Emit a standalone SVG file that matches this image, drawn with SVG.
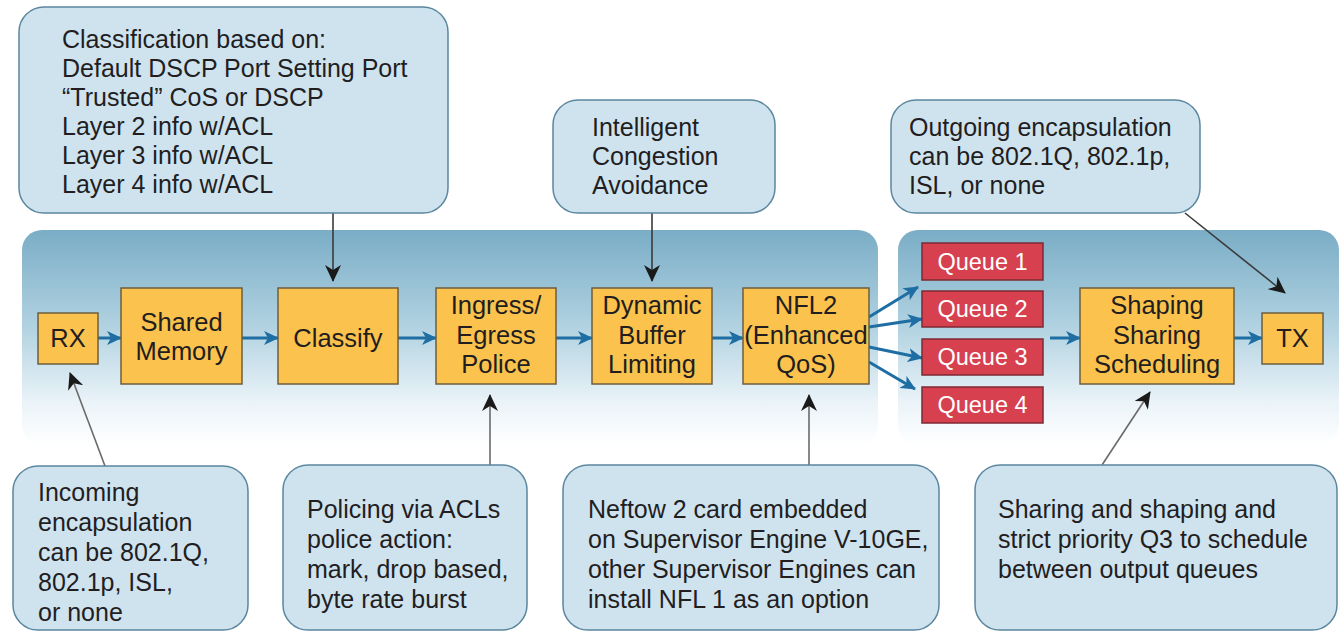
<svg xmlns="http://www.w3.org/2000/svg" width="1340" height="632" viewBox="0 0 1340 632">
  <defs>
    <linearGradient id="bandFill" x1="0" y1="0" x2="0" y2="1">
      <stop offset="0" stop-color="#7aadc6"/>
      <stop offset="0.45" stop-color="#b1d2e1"/>
      <stop offset="0.8" stop-color="#eaf3f8"/>
      <stop offset="1" stop-color="#ffffff"/>
    </linearGradient>
    <marker id="blueHead" markerUnits="userSpaceOnUse" markerWidth="16" markerHeight="14" refX="14" refY="7" orient="auto">
      <path d="M0,0 L15,7 L0,14 L4,7 Z" fill="#1f6ea3"/>
    </marker>
    <marker id="darkHead" markerUnits="userSpaceOnUse" markerWidth="18" markerHeight="16" refX="16" refY="8" orient="auto">
      <path d="M0,0 L17,8 L0,16 L5,8 Z" fill="#1a1a1a"/>
    </marker>
    <style>
      .band { fill: url(#bandFill); }
      .proc { fill: #fbc24d; stroke: #6e5e3e; stroke-width: 1.5; }
      .queue { fill: #d6404f; stroke: #7d2a33; stroke-width: 1.5; }
      .note { fill: #cfe3ef; stroke: #5b879f; stroke-width: 1.5; }
      .lbl { font-family: "Liberation Sans", Arial, sans-serif; font-size: 25px; fill: #221e1f; }
      .big { font-size: 25.5px; }
      .mid { text-anchor: middle; }
      .qlbl { font-family: "Liberation Sans", Arial, sans-serif; font-size: 23.5px; fill: #ffffff; text-anchor: middle; }
      .flow { stroke: #1f6ea3; stroke-width: 3; fill: none; marker-end: url(#blueHead); }
      .callout { stroke: #3a3a3a; stroke-width: 1.6; fill: none; marker-end: url(#darkHead); }
      .callout2 { stroke: #6a6a6a; stroke-width: 1.6; fill: none; marker-end: url(#darkHead); }
    </style>
  </defs>

  <rect width="1340" height="632" fill="#ffffff"/>

  <!-- pipeline backgrounds -->
  <rect class="band" x="22" y="230" width="856" height="215" rx="20"/>
  <rect class="band" x="898" y="230" width="441" height="215" rx="20"/>

  <!-- connectors -->
  <g id="connectors">
    <line class="flow" x1="98" y1="338" x2="121" y2="338"/>
    <line class="flow" x1="242" y1="338" x2="278" y2="338"/>
    <line class="flow" x1="398" y1="338" x2="436" y2="338"/>
    <line class="flow" x1="556" y1="338" x2="592" y2="338"/>
    <line class="flow" x1="712" y1="338" x2="743" y2="338"/>
    <line class="flow" x1="869" y1="317" x2="918" y2="287"/>
    <line class="flow" x1="869" y1="327" x2="922" y2="319"/>
    <line class="flow" x1="869" y1="347" x2="922" y2="358"/>
    <line class="flow" x1="869" y1="362" x2="915" y2="389"/>
    <line class="flow" x1="1050" y1="338" x2="1080" y2="338"/>
    <line class="flow" x1="1234" y1="338" x2="1262" y2="338"/>

    <line class="callout" x1="333" y1="213" x2="333" y2="281"/>
    <line class="callout" x1="652" y1="213" x2="652" y2="281"/>
    <line class="callout" x1="1185" y1="213" x2="1285" y2="293"/>
    <line class="callout2" x1="105" y1="466" x2="70" y2="373"/>
    <line class="callout2" x1="490" y1="465" x2="490" y2="395"/>
    <line class="callout2" x1="809" y1="465" x2="809" y2="395"/>
    <line class="callout2" x1="1102" y1="465" x2="1150" y2="392"/>
  </g>

  <!-- processing stages -->
  <g id="rx">
    <rect class="proc" x="38" y="313" width="60" height="51"/>
    <text class="lbl big mid" x="68" y="347">RX</text>
  </g>
  <g id="shared-memory">
    <rect class="proc" x="121" y="288" width="121" height="96"/>
    <text class="lbl big mid" x="181.5" y="331">Shared</text>
    <text class="lbl big mid" x="181.5" y="360">Memory</text>
  </g>
  <g id="classify">
    <rect class="proc" x="278" y="288" width="120" height="96"/>
    <text class="lbl big mid" x="338" y="347">Classify</text>
  </g>
  <g id="police">
    <rect class="proc" x="436" y="288" width="120" height="96"/>
    <text class="lbl big mid" x="496" y="314">Ingress/</text>
    <text class="lbl big mid" x="496" y="344">Egress</text>
    <text class="lbl big mid" x="496" y="373">Police</text>
  </g>
  <g id="buffer-limiting">
    <rect class="proc" x="592" y="288" width="120" height="96"/>
    <text class="lbl big mid" x="652" y="314">Dynamic</text>
    <text class="lbl big mid" x="652" y="344">Buffer</text>
    <text class="lbl big mid" x="652" y="373">Limiting</text>
  </g>
  <g id="nfl2">
    <rect class="proc" x="743" y="288" width="126" height="96"/>
    <text class="lbl big mid" x="806" y="314">NFL2</text>
    <text class="lbl big mid" x="806" y="344">(Enhanced</text>
    <text class="lbl big mid" x="806" y="373">QoS)</text>
  </g>
  <g id="queue1">
    <rect class="queue" x="922" y="243" width="121" height="37"/>
    <text class="qlbl" x="982.5" y="270">Queue 1</text>
  </g>
  <g id="queue2">
    <rect class="queue" x="922" y="291" width="121" height="36"/>
    <text class="qlbl" x="982.5" y="317">Queue 2</text>
  </g>
  <g id="queue3">
    <rect class="queue" x="922" y="339" width="121" height="36"/>
    <text class="qlbl" x="982.5" y="365">Queue 3</text>
  </g>
  <g id="queue4">
    <rect class="queue" x="922" y="387" width="121" height="36"/>
    <text class="qlbl" x="982.5" y="413">Queue 4</text>
  </g>
  <g id="scheduler">
    <rect class="proc" x="1080" y="288" width="154" height="96"/>
    <text class="lbl big mid" x="1157" y="314">Shaping</text>
    <text class="lbl big mid" x="1157" y="344">Sharing</text>
    <text class="lbl big mid" x="1157" y="373">Scheduling</text>
  </g>
  <g id="tx">
    <rect class="proc" x="1262" y="313" width="61" height="51"/>
    <text class="lbl big mid" x="1292.5" y="347">TX</text>
  </g>

  <!-- notes -->
  <g id="note-classification">
    <rect class="note" x="19" y="7" width="429" height="206" rx="25"/>
    <text class="lbl" x="62" y="48">Classification based on:</text>
    <text class="lbl" x="62" y="77">Default DSCP Port Setting Port</text>
    <text class="lbl" x="62" y="106">“Trusted” CoS or DSCP</text>
    <text class="lbl" x="62" y="135">Layer 2 info w/ACL</text>
    <text class="lbl" x="62" y="164">Layer 3 info w/ACL</text>
    <text class="lbl" x="62" y="193">Layer 4 info w/ACL</text>
  </g>
  <g id="note-congestion">
    <rect class="note" x="553" y="100" width="222" height="113" rx="25"/>
    <text class="lbl" x="592" y="136">Intelligent</text>
    <text class="lbl" x="592" y="165">Congestion</text>
    <text class="lbl" x="592" y="194">Avoidance</text>
  </g>
  <g id="note-outgoing">
    <rect class="note" x="891" y="100" width="309" height="113" rx="25"/>
    <text class="lbl" x="909" y="136">Outgoing encapsulation</text>
    <text class="lbl" x="909" y="165">can be 802.1Q, 802.1p,</text>
    <text class="lbl" x="909" y="194">ISL, or none</text>
  </g>
  <g id="note-incoming">
    <rect class="note" x="13" y="466" width="235" height="164" rx="25"/>
    <text class="lbl" x="38" y="501">Incoming</text>
    <text class="lbl" x="38" y="531">encapsulation</text>
    <text class="lbl" x="38" y="561">can be 802.1Q,</text>
    <text class="lbl" x="38" y="591">802.1p, ISL,</text>
    <text class="lbl" x="38" y="621">or none</text>
  </g>
  <g id="note-policing">
    <rect class="note" x="283" y="465" width="244" height="165" rx="25"/>
    <text class="lbl" x="307" y="518">Policing via ACLs</text>
    <text class="lbl" x="307" y="548">police action:</text>
    <text class="lbl" x="307" y="578">mark, drop based,</text>
    <text class="lbl" x="307" y="608">byte rate burst</text>
  </g>
  <g id="note-netflow">
    <rect class="note" x="563" y="465" width="376" height="165" rx="25"/>
    <text class="lbl" x="588" y="518">Neftow 2 card embedded</text>
    <text class="lbl" x="588" y="548">on Supervisor Engine V-10GE,</text>
    <text class="lbl" x="588" y="578">other Supervisor Engines can</text>
    <text class="lbl" x="588" y="608">install NFL 1 as an option</text>
  </g>
  <g id="note-sharing">
    <rect class="note" x="975" y="465" width="362" height="165" rx="25"/>
    <text class="lbl" x="998" y="518">Sharing and shaping and</text>
    <text class="lbl" x="998" y="548">strict priority Q3 to schedule</text>
    <text class="lbl" x="998" y="578">between output queues</text>
  </g>
</svg>
